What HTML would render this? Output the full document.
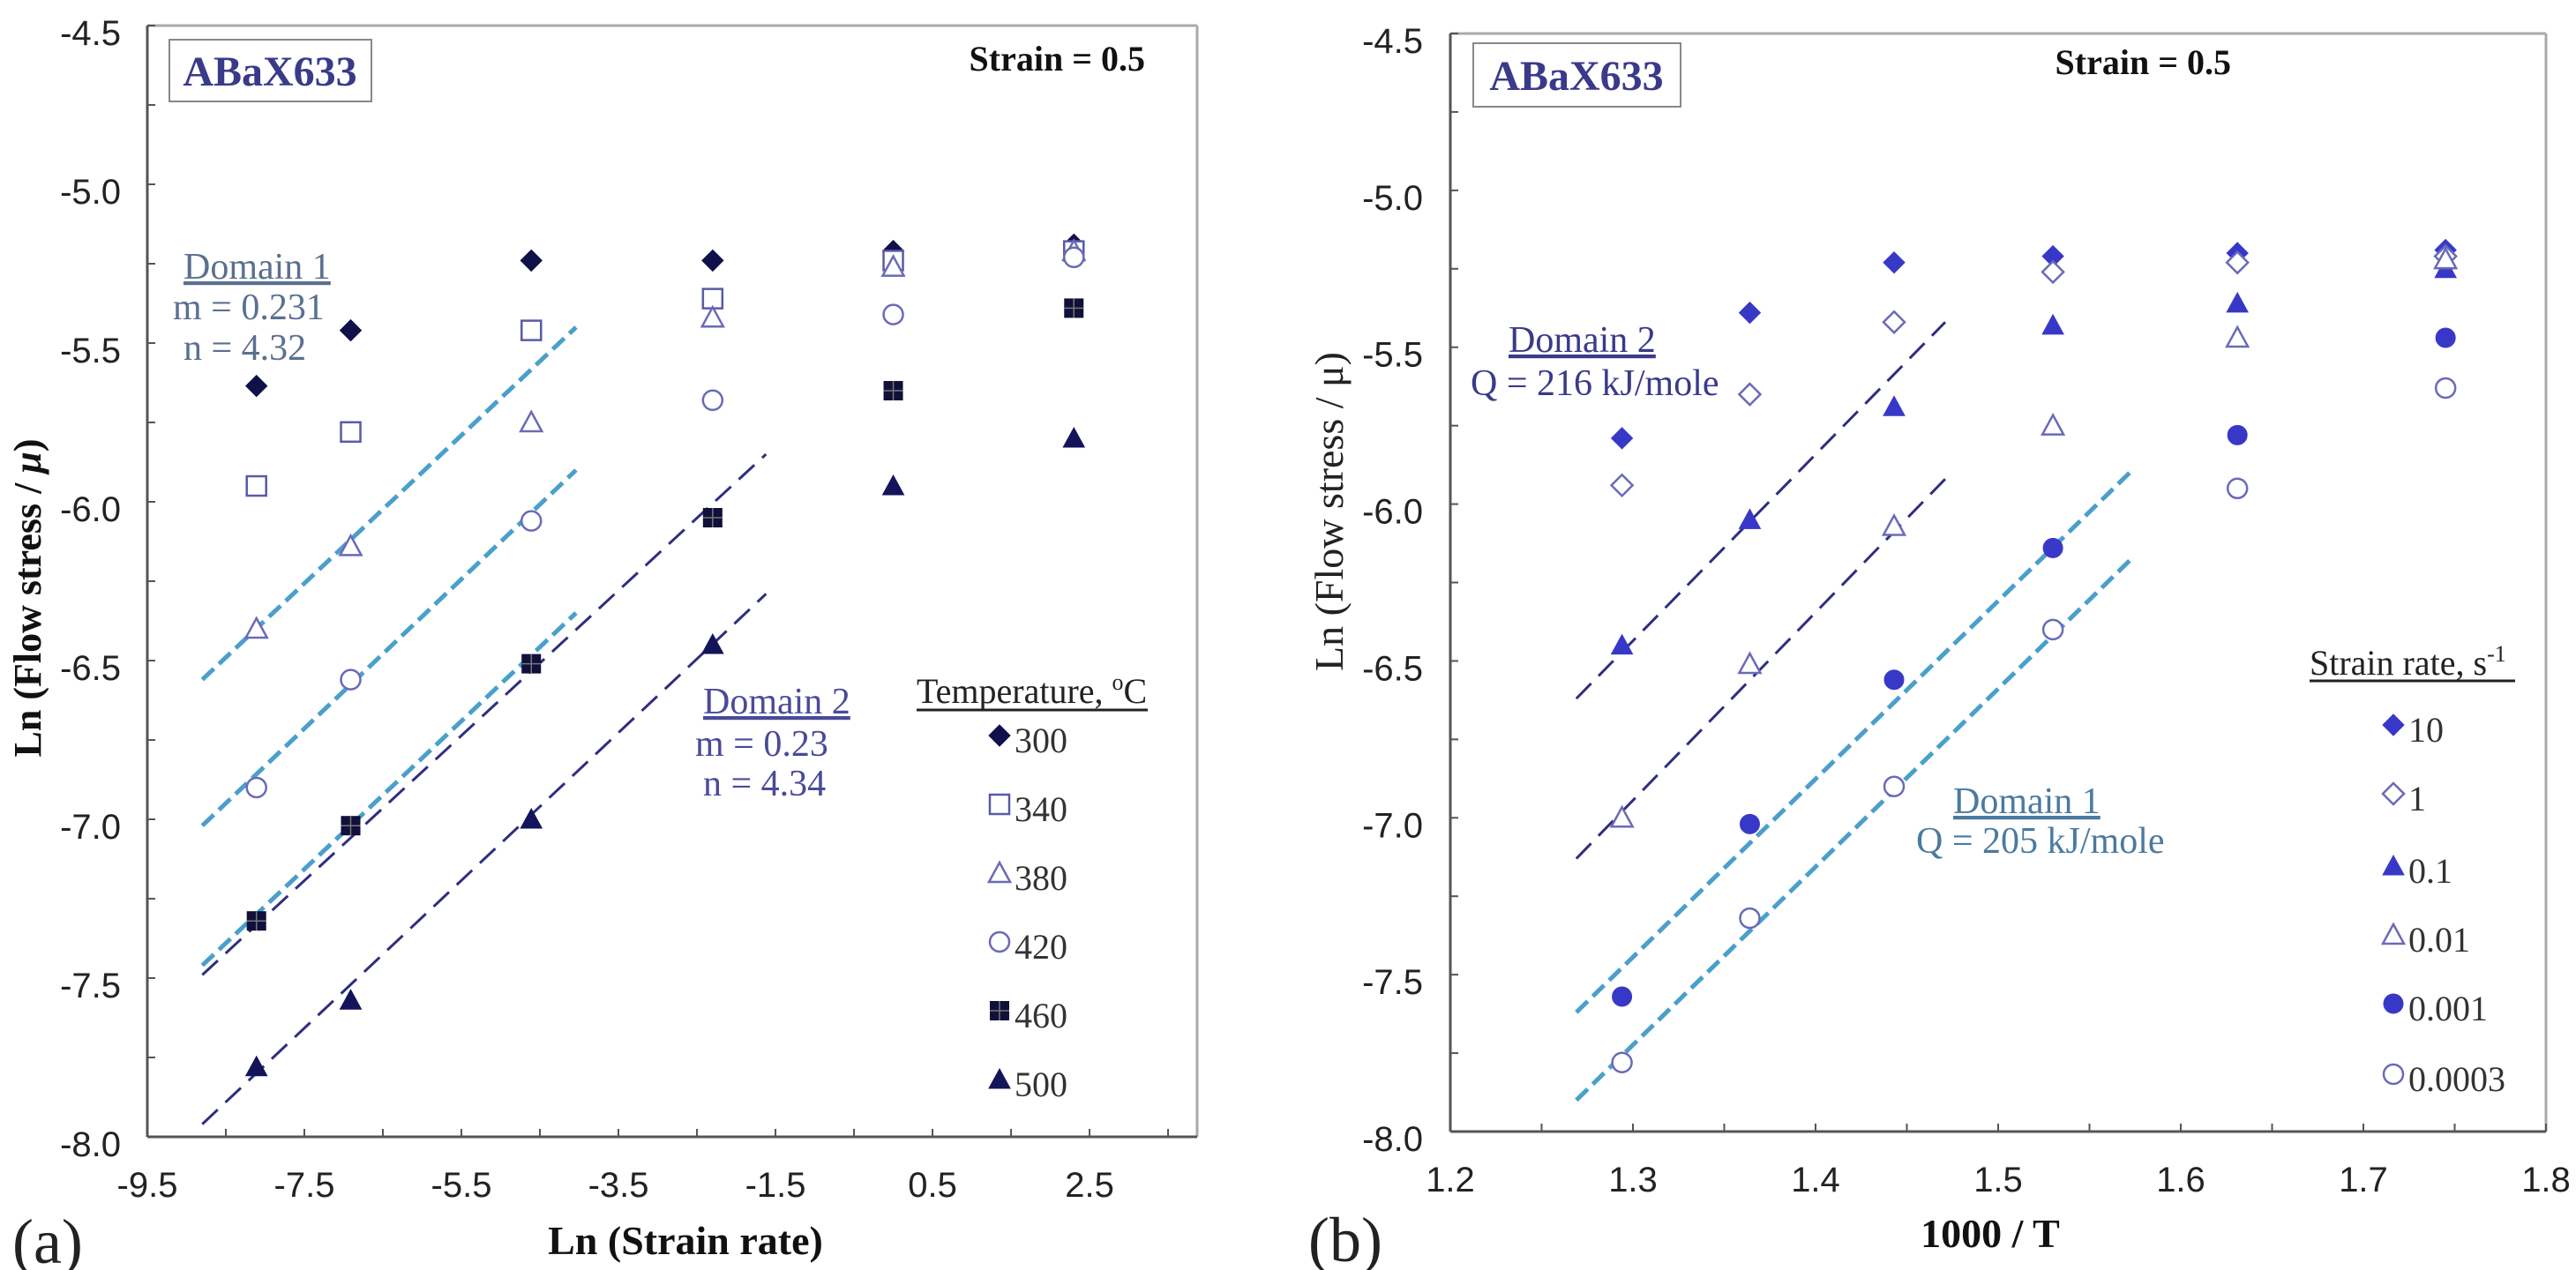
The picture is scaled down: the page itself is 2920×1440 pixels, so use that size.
<!DOCTYPE html>
<html><head><meta charset="utf-8"><style>
html,body{margin:0;padding:0;background:#fff;}
svg{display:block;}
.tick{font-family:"Liberation Sans",sans-serif;font-size:40px;fill:#222;}
.serif{font-family:"Liberation Serif",serif;}
</style></head><body>
<svg id="fig" width="2920" height="1440" viewBox="0 0 2920 1440" xmlns="http://www.w3.org/2000/svg">
<g id="pa"></g>
<g id="pb"></g>
</svg>
<script>
// ---------- Panel (a) data ----------
const aX = [-8.11, -6.91, -4.61, -2.30, 0.0, 2.30];
const aTemps = ["300","340","380","420","460","500"];
const a300 = [-5.635, -5.46, -5.24, -5.24, -5.21, -5.19];
const a340 = [-5.95, -5.78, -5.46, -5.36, -5.24, -5.21];
const a380 = [-6.40, -6.14, -5.75, -5.42, -5.26, -5.21];
const a420 = [-6.90, -6.56, -6.06, -5.68, -5.41, -5.23];
const a460 = [-7.32, -7.02, -6.51, -6.05, -5.65, -5.39];
const a500 = [-7.78, -7.57, -7.00, -6.45, -5.95, -5.80];
const aXTicks = [-9.5, -7.5, -5.5, -3.5, -1.5, 0.5, 2.5];
const aYTicks = [-4.5, -5.0, -5.5, -6.0, -6.5, -7.0, -7.5, -8.0];
const aFitD1 = [[-8.8,-6.56,-4.04,-5.45],[-8.8,-7.02,-4.04,-5.90],[-8.8,-7.46,-4.04,-6.35]];
const aFitD2 = [[-8.8,-7.49,-1.62,-5.85],[-8.8,-7.96,-1.62,-6.29]];

// ---------- Panel (b) data ----------
const bX = [1.294, 1.364, 1.443, 1.530, 1.631, 1.745];
const bRates = ["10","1","0.1","0.01","0.001","0.0003"];
const b10 = [-5.79, -5.39, -5.23, -5.21, -5.20, -5.19];
const b1 = [-5.94, -5.65, -5.42, -5.26, -5.23, -5.21];
const b01 = [-6.45, -6.05, -5.69, -5.43, -5.36, -5.25];
const b001 = [-7.00, -6.51, -6.07, -5.75, -5.47, -5.22];
const b0001 = [-7.57, -7.02, -6.56, -6.14, -5.78, -5.47];
const b00003 = [-7.78, -7.32, -6.90, -6.40, -5.95, -5.63];
const bXTicks = [1.2, 1.3, 1.4, 1.5, 1.6, 1.7, 1.8];
const bYTicks = [-4.5, -5.0, -5.5, -6.0, -6.5, -7.0, -7.5, -8.0];
const bFitD2 = [[1.269,-6.62,1.471,-5.42],[1.269,-7.13,1.471,-5.92]];
const bFitD1 = [[1.269,-7.62,1.572,-5.90],[1.269,-7.90,1.572,-6.18]];

const NS = "http://www.w3.org/2000/svg";
function mk(parent, tag, attrs, text){
  const e = document.createElementNS(NS, tag);
  for (const k in attrs) e.setAttribute(k, attrs[k]);
  if (text !== undefined) e.textContent = text;
  parent.appendChild(e);
  return e;
}
function marker(g, shape, cx, cy, color, filled){
  const f = filled ? color : "#fff";
  let e;
  if (shape === "diamond") e = mk(g,"polygon",{points:`${cx},${cy-12} ${cx+12},${cy} ${cx},${cy+12} ${cx-12},${cy}`,fill:f,stroke:color,"stroke-width":filled?1:2.5});
  else if (shape === "square") e = mk(g,"rect",{x:cx-11,y:cy-11,width:22,height:22,fill:f,stroke:color,"stroke-width":filled?1:2.5});
  else if (shape === "triangle") e = mk(g,"polygon",{points:`${cx},${cy-12} ${cx+12},${cy+10} ${cx-12},${cy+10}`,fill:f,stroke:color,"stroke-width":filled?1:2.5});
  else if (shape === "circle") e = mk(g,"circle",{cx:cx,cy:cy,r:11,fill:f,stroke:color,"stroke-width":filled?1:2.5});
  else if (shape === "hashsquare"){
    e = mk(g,"rect",{x:cx-11,y:cy-11,width:22,height:22,fill:color});
    mk(g,"line",{x1:cx-11,y1:cy,x2:cx+11,y2:cy,stroke:"#777","stroke-width":1.5});
    mk(g,"line",{x1:cx,y1:cy-11,x2:cx,y2:cy+11,stroke:"#777","stroke-width":1.5});
  }
  return e;
}

function panel(gid, cfg){
  const g = document.getElementById(gid);
  const sx = v => cfg.x0 + (v - cfg.xmin) / (cfg.xmax - cfg.xmin) * (cfg.x1 - cfg.x0);
  const sy = v => cfg.y0 + (cfg.ymax - v) / (cfg.ymax - cfg.ymin) * (cfg.y1 - cfg.y0);
  const fr = mk(g,"g",{});
  
  
  mk(fr,"line",{x1:cfg.x0,y1:cfg.y0,x2:cfg.x1,y2:cfg.y0,stroke:"#aaa","stroke-width":3});
  mk(fr,"line",{x1:cfg.x1,y1:cfg.y0,x2:cfg.x1,y2:cfg.y1,stroke:"#aaa","stroke-width":3});
  mk(fr,"line",{x1:cfg.x0,y1:cfg.y0,x2:cfg.x0,y2:cfg.y1,stroke:"#555","stroke-width":3});
  mk(fr,"line",{x1:cfg.x0,y1:cfg.y1,x2:cfg.x1,y2:cfg.y1,stroke:"#555","stroke-width":3});
  const xa = mk(g,"g",{});  
  for (let v = cfg.xmin; v <= cfg.xmax + 1e-9; v += cfg.xminor){
    mk(xa,"line",{x1:sx(v),y1:cfg.y1,x2:sx(v),y2:cfg.y1-9,stroke:"#555","stroke-width":2});
  }
  cfg.xt.forEach(v=>{
    const t = mk(xa,"text",{x:sx(v),y:cfg.y1+68,"text-anchor":"middle",class:"tick"}, v.toFixed(1));
    
    
  });
  const ya = mk(g,"g",{});  
  for (let v = cfg.ymin; v <= cfg.ymax + 1e-9; v += 0.25){
    mk(ya,"line",{x1:cfg.x0,y1:sy(v),x2:cfg.x0+9,y2:sy(v),stroke:"#555","stroke-width":2});
  }
  cfg.yt.forEach(v=>{
    const t = mk(ya,"text",{x:cfg.ylabX,y:sy(v)+22,"text-anchor":"end",class:"tick"}, v.toFixed(1));
    
    
  });
  cfg.d1.forEach(l=>{
    const e = mk(g,"line",{x1:sx(l[0]),y1:sy(l[1]),x2:sx(l[2]),y2:sy(l[3]),stroke:"#4a9fcc","stroke-width":5,"stroke-dasharray":"18 8"});
    
    
  });
  cfg.d2.forEach(l=>{
    const e = mk(g,"line",{x1:sx(l[0]),y1:sy(l[1]),x2:sx(l[2]),y2:sy(l[3]),stroke:"#2e2e80","stroke-width":3,"stroke-dasharray":"24 12"});
    
    
  });
  cfg.series.forEach(s=>{
    const sg = mk(g,"g",{});
    
    
    s.vals.forEach((v,i)=>{
      const e = marker(sg, s.shape, sx(cfg.xs[i]), sy(v), s.color, s.filled);
      
      
    });
    const lg = mk(g,"g",{});
    
    
    marker(lg, s.shape, cfg.legX, s.legY, s.color, s.filled);
    mk(lg,"text",{x:cfg.legX+17,y:s.legY+19,class:"serif","font-size":"40","fill":"#333"}, s.name);
  });
}

panel("pa",{x0:167,x1:1357,y0:29,y1:1289,xmin:-9.5,xmax:3.87,ymin:-8,ymax:-4.5,xminor:1,
  xt:aXTicks,yt:aYTicks,ylabX:137,xs:aX,d1:aFitD1,d2:aFitD2,legX:1133,
  series:[
    {name:aTemps[0],vals:a300,shape:"diamond",color:"#10104a",filled:true,legY:834},
    {name:aTemps[1],vals:a340,shape:"square",color:"#5a5aa8",filled:false,legY:912},
    {name:aTemps[2],vals:a380,shape:"triangle",color:"#6a6ab8",filled:false,legY:990},
    {name:aTemps[3],vals:a420,shape:"circle",color:"#6a6ab8",filled:false,legY:1068},
    {name:aTemps[4],vals:a460,shape:"hashsquare",color:"#10103a",filled:true,legY:1146},
    {name:aTemps[5],vals:a500,shape:"triangle",color:"#14145a",filled:true,legY:1224}
  ]});
panel("pb",{x0:1644,x1:2886,y0:38,y1:1283,xmin:1.2,xmax:1.8,ymin:-8,ymax:-4.5,xminor:0.05,
  xt:bXTicks,yt:bYTicks,ylabX:1613,xs:bX,d1:bFitD1,d2:bFitD2,legX:2713,
  series:[
    {name:bRates[0],vals:b10,shape:"diamond",color:"#3838c8",filled:true,legY:822},
    {name:bRates[1],vals:b1,shape:"diamond",color:"#6a6ab8",filled:false,legY:900},
    {name:bRates[2],vals:b01,shape:"triangle",color:"#3838c8",filled:true,legY:982},
    {name:bRates[3],vals:b001,shape:"triangle",color:"#6a6ab8",filled:false,legY:1060},
    {name:bRates[4],vals:b0001,shape:"circle",color:"#3838c8",filled:true,legY:1138},
    {name:bRates[5],vals:b00003,shape:"circle",color:"#6a6ab8",filled:false,legY:1218}
  ]});
</script>
<div style="position:absolute;left:0;top:0;width:2920px;height:1440px;pointer-events:none;">
<svg width="2920" height="1440" xmlns="http://www.w3.org/2000/svg">
  <rect x="192" y="45" width="229" height="70" fill="none" stroke="#888" stroke-width="2"/>
  <text x="306" y="97" text-anchor="middle" font-family="Liberation Serif" font-weight="bold" font-size="48" fill="#3a3a8a">ABaX633</text>
  <text x="1298" y="80" text-anchor="end" font-family="Liberation Serif" font-weight="bold" font-size="40" fill="#111">Strain = 0.5</text>
  <text x="208" y="316" font-family="Liberation Serif" font-size="42" fill="#5a7090" text-decoration="underline">Domain 1</text>
  <text x="196" y="362" font-family="Liberation Serif" font-size="42" fill="#5a7090">m = 0.231</text>
  <text x="208" y="408" font-family="Liberation Serif" font-size="42" fill="#5a7090">n = 4.32</text>
  <text x="797" y="809" font-family="Liberation Serif" font-size="42" fill="#4a4a9a" text-decoration="underline">Domain 2</text>
  <text x="788" y="857" font-family="Liberation Serif" font-size="42" fill="#4a4a9a">m = 0.23</text>
  <text x="797" y="902" font-family="Liberation Serif" font-size="42" fill="#4a4a9a">n = 4.34</text>
  <text x="1039" y="797" font-family="Liberation Serif" font-size="40" fill="#222">Temperature, <tspan font-size="26" dy="-15">o</tspan><tspan dy="15">C</tspan></text>
  <line x1="1039" y1="805" x2="1301" y2="805" stroke="#222" stroke-width="3"/>
  <text x="14" y="1432" font-family="Liberation Serif" font-size="72" fill="#222">(a)</text>
  <text x="777" y="1422" text-anchor="middle" font-family="Liberation Serif" font-weight="bold" font-size="46" fill="#111">Ln (Strain rate)</text>
  <text transform="translate(46,678) rotate(-90)" text-anchor="middle" font-family="Liberation Serif" font-weight="bold" font-size="44" fill="#111">Ln (Flow stress / <tspan font-style="italic">μ</tspan>)</text>
  <rect x="1670" y="49" width="235" height="72" fill="none" stroke="#888" stroke-width="2"/>
  <text x="1787" y="102" text-anchor="middle" font-family="Liberation Serif" font-weight="bold" font-size="48" fill="#3a3a8a">ABaX633</text>
  <text x="2529" y="84" text-anchor="end" font-family="Liberation Serif" font-weight="bold" font-size="40" fill="#111">Strain = 0.5</text>
  <text x="1710" y="399" font-family="Liberation Serif" font-size="42" fill="#3a3a8a" text-decoration="underline">Domain 2</text>
  <text x="1667" y="448" font-family="Liberation Serif" font-size="42" fill="#3a3a8a">Q = 216 kJ/mole</text>
  <text x="2214" y="922" font-family="Liberation Serif" font-size="42" fill="#4a7aa0" text-decoration="underline">Domain 1</text>
  <text x="2172" y="967" font-family="Liberation Serif" font-size="42" fill="#4a7aa0">Q = 205 kJ/mole</text>
  <text x="2618" y="765" font-family="Liberation Serif" font-size="40" fill="#222">Strain rate, s<tspan font-size="26" dy="-15">-1</tspan></text>
  <line x1="2618" y1="772" x2="2851" y2="772" stroke="#222" stroke-width="3"/>
  <text x="1483" y="1430" font-family="Liberation Serif" font-size="72" fill="#222">(b)</text>
  <text x="2256" y="1414" text-anchor="middle" font-family="Liberation Serif" font-weight="bold" font-size="46" fill="#111">1000 / T</text>
  <text transform="translate(1522,580) rotate(-90)" text-anchor="middle" font-family="Liberation Serif" font-size="46" fill="#222">Ln (Flow stress / μ)</text>
</svg>
</div>
</body></html>
